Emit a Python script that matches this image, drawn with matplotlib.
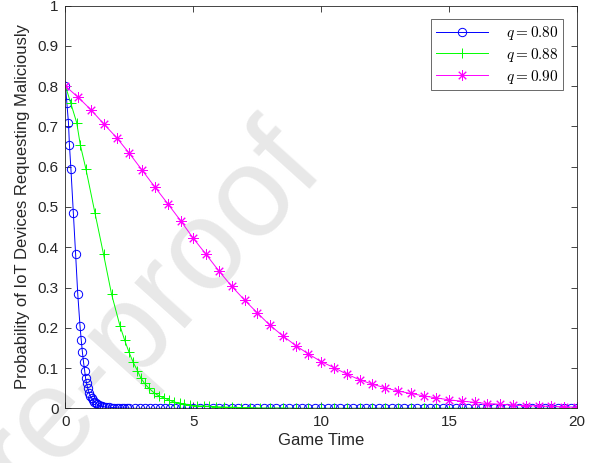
import numpy as np
import matplotlib
matplotlib.use("Agg")
import matplotlib.pyplot as plt

plt.rcParams['font.family'] = ['Liberation Sans', 'DejaVu Sans']
plt.rcParams['mathtext.fontset'] = 'cm'

# q = 0.80 (blue circles)
t_080 = [0, 0.056, 0.117, 0.155, 0.213, 0.307, 0.397, 0.48, 0.568, 0.616, 0.661,
         0.707, 0.749, 0.784, 0.824, 0.869, 0.923, 0.973, 1.027, 1.077, 1.128,
         1.189, 1.24, 1.30, 1.37, 1.44, 1.50, 1.6, 1.7, 1.8, 1.9, 2.0, 2.1, 2.2,
         2.3, 2.4, 2.5, 2.7, 2.9, 3.1, 3.3, 3.5, 3.7, 3.9, 4.1, 4.3, 4.5, 4.75,
         5.0, 5.25, 5.5, 5.75, 6.0, 6.25, 6.5, 6.75, 7.0, 7.25, 7.5, 7.75, 8.0,
         8.25, 8.5, 8.75, 9.0, 9.25, 9.5, 9.75, 10.0, 10.25, 10.5, 10.75, 11.0,
         11.25, 11.5, 11.75, 12.0, 12.25, 12.5, 12.75, 13.0, 13.25, 13.5, 13.75,
         14.0, 14.25, 14.5, 14.75, 15.0, 15.25, 15.5, 15.75, 16.0, 16.25, 16.5,
         16.75, 17.0, 17.25, 17.5, 17.75, 18.0, 18.25, 18.5, 18.75, 19.0, 19.25,
         19.5, 19.75, 20.0]
p_080 = [0.8, 0.757, 0.709, 0.654, 0.594, 0.486, 0.382, 0.284, 0.205, 0.170, 0.140,
         0.114, 0.094, 0.076, 0.062, 0.050, 0.039, 0.031, 0.025, 0.020, 0.016,
         0.013, 0.010, 0.008, 0.006, 0.005, 0.004, 0.003, 0.003, 0.002, 0.002, 0.001, 0.001, 0.001,
         0.001, 0.0005, 0.0005, 0, 0, 0, 0, 0, 0, 0, 0, 0, 0, 0,
         0, 0, 0, 0, 0, 0, 0, 0, 0, 0, 0, 0, 0,
         0, 0, 0, 0, 0, 0, 0, 0, 0, 0, 0, 0,
         0, 0, 0, 0, 0, 0, 0, 0, 0, 0, 0,
         0, 0, 0, 0, 0, 0, 0, 0, 0, 0, 0,
         0, 0, 0, 0, 0, 0, 0, 0, 0, 0, 0,
         0, 0, 0]

# q = 0.88 (green plus)
t_088 = [0, 0.21, 0.44, 0.58, 0.80, 1.15, 1.49, 1.80, 2.13, 2.31, 2.48, 2.65,
         2.81, 2.94, 3.09, 3.26, 3.46, 3.65, 3.85, 4.04, 4.23, 4.46, 4.65, 4.88,
         5.14, 5.40, 5.63, 5.9, 6.2, 6.5, 6.85, 7.2, 7.6, 8.0, 8.5, 9.0, 9.5,
         10.0, 10.5, 11.0, 11.5, 12.0, 12.5, 13.0, 13.5, 14.0, 14.5, 15.0, 15.5,
         16.0, 16.5, 17.0, 17.5, 18.0, 18.5, 19.0, 19.5, 20.0]
p_088 = [0.8, 0.757, 0.709, 0.654, 0.594, 0.486, 0.382, 0.284, 0.205, 0.170, 0.140, 0.114,
         0.094, 0.076, 0.062, 0.050, 0.039, 0.031, 0.026, 0.021, 0.016, 0.013, 0.011, 0.008,
         0.006, 0.006, 0.005, 0.004, 0.003, 0.003, 0.002, 0.002, 0.001, 0.001, 0.001, 0, 0,
         0, 0, 0, 0, 0, 0, 0, 0, 0, 0, 0, 0,
         0, 0, 0, 0, 0, 0, 0, 0, 0]

# q = 0.90 (magenta asterisk)
t_090 = [0, 0.5, 1, 1.5, 2, 2.5, 3, 3.5, 4, 4.5, 5, 5.5, 6, 6.5, 7, 7.5, 8, 8.5,
         9, 9.5, 10, 10.5, 11, 11.5, 12, 12.5, 13, 13.5, 14, 14.5, 15, 15.5, 16,
         16.5, 17, 17.5, 18, 18.5, 19, 19.5, 20]
p_090 = [0.800, 0.772, 0.741, 0.706, 0.672, 0.633, 0.591, 0.549, 0.508, 0.466,
         0.422, 0.382, 0.341, 0.303, 0.269, 0.237, 0.206, 0.180, 0.156, 0.135,
         0.116, 0.101, 0.085, 0.071, 0.060, 0.051, 0.043, 0.037, 0.031, 0.026,
         0.021, 0.018, 0.015, 0.012, 0.010, 0.008, 0.007, 0.006, 0.005, 0.004,
         0.003]

fig = plt.figure(figsize=(5.99, 4.63), dpi=100)
ax = fig.add_axes([0.1093, 0.118, 0.854, 0.870])
ax.set_facecolor('none')

# journal watermark behind the plot
fig.text(0.545, 0.63, "Journal Pre-proof", rotation=48, rotation_mode='anchor',
         ha='right', va='baseline', fontsize=92, color='#e8e8e8', zorder=-1)

ax.plot(t_080, p_080, color='#0000ff', marker='o', markersize=6, markerfacecolor='none',
        linewidth=0.7, markeredgewidth=0.7, label=r'$q = 0.80$')
ax.plot(t_088, p_088, color='#00ff00', marker='+', markersize=7.5,
        linewidth=0.7, markeredgewidth=0.7, label=r'$q = 0.88$')
ax.plot(t_090, p_090, color='#ff00ff', marker=(8, 2, 0), markersize=7.5,
        linewidth=0.7, markeredgewidth=0.7, label=r'$q = 0.90$')

ax.set_xlim(0, 20)
ax.set_ylim(0, 1)
ax.set_xticks([0, 5, 10, 15, 20])
ax.set_yticks(np.arange(0, 1.01, 0.1))
ax.set_yticklabels(['0', '0.1', '0.2', '0.3', '0.4', '0.5', '0.6', '0.7', '0.8', '0.9', '1'])
ax.tick_params(direction='in', top=True, right=True, length=4, width=0.6,
               labelsize=11, colors='#262626', pad=5)
for s in ax.spines.values():
    s.set_color('#262626')
    s.set_linewidth(0.6)

ax.set_xlabel("Game Time", fontsize=12, color='#262626', labelpad=3)
ax.set_ylabel("Probability of IoT Devices Requesting Maliciously", fontsize=12,
              color='#262626', labelpad=5)

leg = ax.legend(loc='upper right', fontsize=11, frameon=True, fancybox=False,
                edgecolor='#262626', handlelength=3.4, borderaxespad=0.9,
                labelspacing=0.25, borderpad=0.3, handletextpad=1.2)
leg.get_frame().set_linewidth(0.6)

fig.savefig("out.png", dpi=100)
